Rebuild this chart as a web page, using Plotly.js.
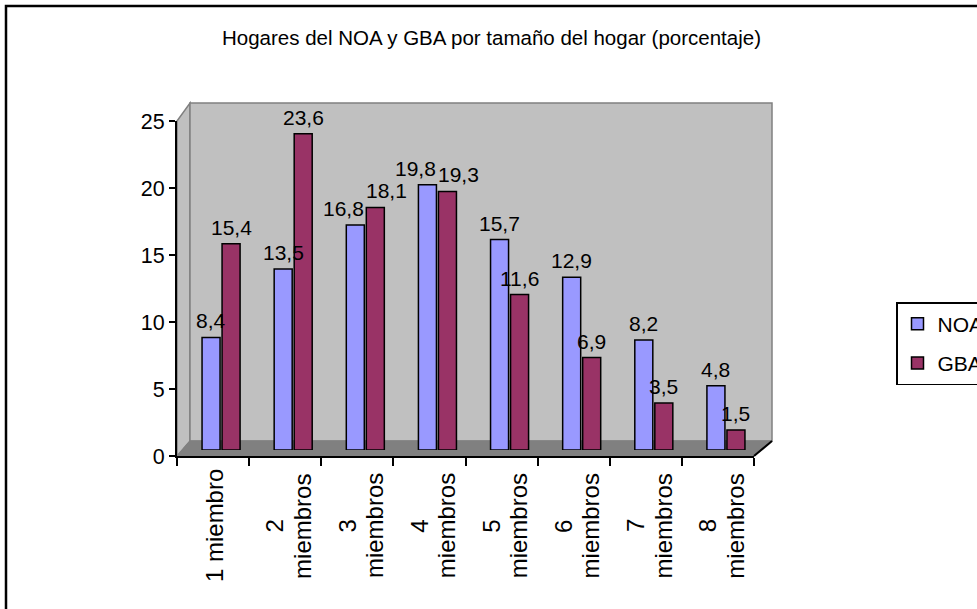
<!DOCTYPE html>
<html>
<head>
<meta charset="utf-8">
<script src="https://cdn.plot.ly/plotly-3.0.1.min.js"></script>
<style>html,body{margin:0;padding:0;background:#fff;}#chart{width:977px;height:609px;}</style>
</head>
<body>
<div id="chart"></div>
<script>
const categories = ['1 miembro','2 miembros','3 miembros','4 miembros','5 miembros','6 miembros','7 miembros','8 miembros'];
const tickLabels = ['1 miembro','2<br>miembros','3<br>miembros','4<br>miembros','5<br>miembros','6<br>miembros','7<br>miembros','8<br>miembros'];
const noa = [8.4, 13.5, 16.8, 19.8, 15.7, 12.9, 8.2, 4.8];
const gba = [15.4, 23.6, 18.1, 19.3, 11.6, 6.9, 3.5, 1.5];
const yTicks = [0, 5, 10, 15, 20, 25];
const seriesNames = ['NOA', 'GBA'];
const titleText = 'Hogares del NOA y GBA por tamaño del hogar (porcentaje)';

const W = 977, H = 609;
const L = 177, R = 762, T = 115, B = 456;
const PW = R - L, PH = B - T;
const DX = 8, DY = 6;       // bar depth offset (px)
const WX = 13, WY = 15;     // back wall offset (px)
const px = x => (x - L) / PW;
const py = y => (B - y) / PH;
const FONT = 'Liberation Sans, Arial, Helvetica, sans-serif';
const BARGAP = 0.445, LABEL_FONT = 21, TICK_FONT = 24, LINE_GAP = 27.5;

const axisW = PW - DX;   // 577
const axisH = PH - DY;   // 335
const xEnd = L + axisW, yTop = B - axisH;
const catPx = axisW / categories.length;
const barOff = catPx * (1 - BARGAP) / 4;   // centre of each bar from category centre
const pxPerUnit = axisH / 25;

const traces = [
  {type:'bar', name:seriesNames[0], x:categories, y:noa, xaxis:'x2', yaxis:'y2',
   marker:{color:'#9999FF', line:{color:'#000', width:1.5}}, legendgroup:'a', hoverinfo:'x+y'},
  {type:'bar', name:seriesNames[1], x:categories, y:gba, xaxis:'x2', yaxis:'y2',
   marker:{color:'#993366', line:{color:'#000', width:1.5}}, legendgroup:'b', hoverinfo:'x+y'}
];

const tickVals = [];
for (let i = 0; i <= categories.length; i++) tickVals.push(i - 0.5);

const fmt = v => v.toFixed(1).replace('.', ',');
const annotations = [];
// category labels, one annotation per line so the line spacing can match
tickLabels.forEach((t, i) => {
  const lines = t.split('<br>');
  lines.forEach((ln, j) => {
    annotations.push({
      xref:'x', yref:'paper', x:i, y:0, yshift:-70,
      xshift:(j - (lines.length - 1) / 2) * LINE_GAP + (lines.length > 1 ? 3 : 1),
      text:ln, textangle:-90, showarrow:false,
      xanchor:'center', yanchor:'middle', font:{size:TICK_FONT, color:'#000', family:FONT}
    });
  });
});
// value labels, spread apart when the two labels of a pair would collide
const labelW = 2.6 * LABEL_FONT * 0.75;
categories.forEach((c, i) => {
  const dyPx = Math.abs(noa[i] - gba[i]) * pxPerUnit;
  const spread = dyPx < LABEL_FONT * 1.1 ? Math.max(0, (labelW + 2 - 2 * barOff) / 2) : 0;
  [[noa[i], -1], [gba[i], 1]].forEach(([v, s]) => {
    annotations.push({
      xref:'x2', yref:'y2', x:c, y:v, xshift:s * (barOff + spread), yshift:3,
      text:fmt(v), showarrow:false, xanchor:'center', yanchor:'bottom',
      font:{size:LABEL_FONT, color:'#000', family:FONT}
    });
  });
});

const shapes = [
  // left side wall
  {type:'path', xref:'paper', yref:'paper', layer:'below',
   path:`M${px(L)},${py(B)} L${px(L)},${py(yTop)} L${px(L+WX)},${py(yTop-WY-3)} L${px(L+WX)},${py(B-WY)} Z`,
   fillcolor:'#C0C0C0', line:{color:'#808080', width:1.5}},
  // back wall
  {type:'rect', xref:'paper', yref:'paper', layer:'below',
   x0:px(L+WX), x1:px(xEnd+WX+5), y0:py(B-WY), y1:py(yTop-WY-3),
   fillcolor:'#C0C0C0', line:{color:'#808080', width:1.5}},
  // floor
  {type:'path', xref:'paper', yref:'paper', layer:'below',
   path:`M${px(L)},${py(B)} L${px(L+WX)},${py(B-WY)} L${px(xEnd+WX+5)},${py(B-WY)} L${px(xEnd)},${py(B)} Z`,
   fillcolor:'#808080', line:{color:'#808080', width:1}},
  // floor right edge
  {type:'line', xref:'paper', yref:'paper', layer:'above',
   x0:px(xEnd), y0:py(B), x1:px(xEnd+WX+5), y1:py(B-WY), line:{color:'#000', width:2}},
  // outer frame
  {type:'rect', xref:'paper', yref:'paper', layer:'above',
   x0:px(6), x1:px(1200), y0:py(6), y1:py(800), line:{color:'#000', width:2.5}, fillcolor:'rgba(0,0,0,0)'}
];

const layout = {
  width:W, height:H,
  margin:{l:L, r:W-R, t:T, b:H-B, autoexpand:false},
  paper_bgcolor:'#fff', plot_bgcolor:'rgba(0,0,0,0)',
  font:{family:FONT, color:'#000', size:21},
  separators:',.',
  title:{text:titleText, font:{size:20.5, color:'#000', family:FONT},
         xref:'container', yref:'container', x:491.5/W, y:1-38/H, xanchor:'center', yanchor:'middle'},
  xaxis:{domain:[0, axisW/PW], range:[-0.5, categories.length-0.5], type:'linear',
         tickvals:tickVals, showticklabels:false, ticks:'outside', ticklen:8, tickwidth:2, tickcolor:'#000',
         showline:true, linecolor:'#000', linewidth:2, showgrid:false, zeroline:false, anchor:'y', fixedrange:true},
  yaxis:{domain:[0, axisH/PH], range:[0, 25], tickvals:yTicks, ticks:'outside', ticklen:6, tickwidth:2, tickcolor:'#000',
         showline:true, linecolor:'#000', linewidth:2, showgrid:false, zeroline:false, anchor:'x',
         tickfont:{size:21.5, color:'#000', family:FONT}, fixedrange:true},
  xaxis2:{domain:[DX/PW, 1], type:'category', categoryarray:categories, categoryorder:'array',
          range:[-0.5, categories.length-0.5], visible:false, anchor:'y2', fixedrange:true},
  yaxis2:{domain:[DY/PH, 1], range:[0, 25], visible:false, anchor:'x2', fixedrange:true},
  barmode:'group', bargap:BARGAP, bargroupgap:0.1,
  showlegend:true,
  legend:{xref:'container', yref:'container', x:896/W, y:1-302/H, xanchor:'left', yanchor:'top',
          bgcolor:'#fff', bordercolor:'#000', borderwidth:1.5, font:{size:21, color:'#000', family:FONT},
          traceorder:'grouped', tracegroupgap:9},
  shapes:shapes,
  annotations:annotations
};

Plotly.newPlot('chart', traces, layout, {displayModeBar:false, staticPlot:true});
</script>
</body>
</html>
